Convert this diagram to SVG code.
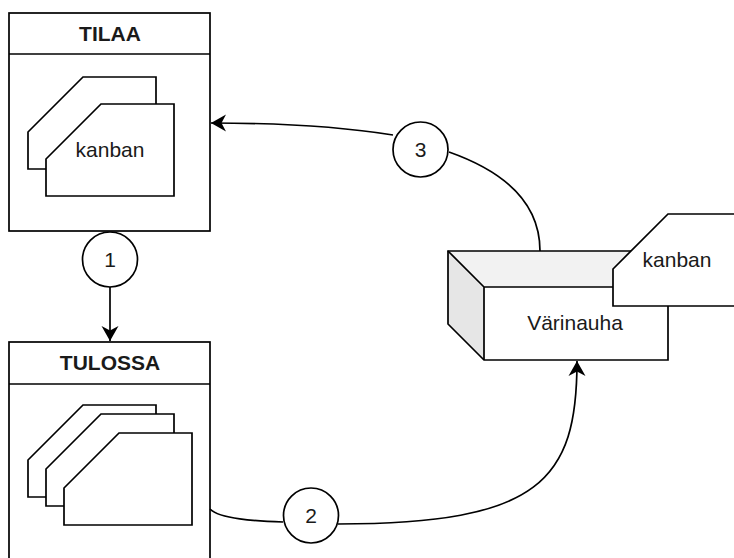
<svg xmlns="http://www.w3.org/2000/svg" width="734" height="558" viewBox="0 0 734 558">
<style>
.s{stroke:#000;stroke-width:1.7;fill:#fff}
.n{fill:none;stroke:#000;stroke-width:1.7}
.t{font-family:"Liberation Sans",Arial,sans-serif;font-size:21px;fill:#1a1a1a;text-anchor:middle}
.b{font-weight:bold}
</style>
<defs>
<marker id="arr" markerUnits="userSpaceOnUse" markerWidth="16" markerHeight="18" viewBox="0 0 16 18" refX="15" refY="9" orient="auto">
<path d="M15,9 L0,0.5 L4.5,9 L0,17.5 Z" fill="#000"/>
</marker>
</defs>
<rect width="734" height="558" fill="#fff"/>
<g id="tilaa">
<rect class="s" x="9" y="13" width="201" height="218"/>
<line class="n" x1="9" y1="54" x2="210" y2="54"/>
<text class="t b" x="110" y="41">TILAA</text>
<path class="s" d="M83,77 H156 V169 H28 V132 Z"/>
<path class="s" d="M101,104 H174 V196 H46 V159 Z"/>
<text class="t" x="110" y="157">kanban</text>
</g>
<g id="tulossa">
<rect class="s" x="9" y="342" width="201" height="260"/>
<line class="n" x1="9" y1="384" x2="210" y2="384"/>
<text class="t b" x="110" y="370">TULOSSA</text>
<path class="s" d="M83,405 H156 V497 H28 V460 Z"/>
<path class="s" d="M101,414 H174 V506 H46 V469 Z"/>
<path class="s" d="M119,433 H192 V525 H64 V488 Z"/>
</g>
<g id="varinauha">
<path d="M448,251 H632 L668,287 H484 Z" fill="#f2f2f2"/>
<path d="M448,251 L484,287 V360 L448,324 Z" fill="#e6e6e6"/>
<path class="n" d="M448,251 H632 L668,287 V360 H484 L448,324 Z"/>
<path class="n" d="M448,251 L484,287 H668 M484,287 V360"/>
<text class="t" x="575" y="330">Värinauha</text>
</g>
<g id="kanban-right">
<path class="s" d="M668,214 H741 V306 H613 V269 Z"/>
<text class="t" x="677" y="267">kanban</text>
</g>
<g id="connectors">
<path class="n" d="M110,287 V341" marker-end="url(#arr)"/>
<path class="n" d="M210,509 C220,519 255,521 283,522"/>
<path class="n" d="M338,524 C540,524 577,480 577,361" marker-end="url(#arr)"/>
<path class="n" d="M540,251 C540,200 500,170 449,152"/>
<path class="n" d="M393,135 C330,125 260,123 211,123" marker-end="url(#arr)"/>
</g>
<g id="c1">
<circle class="s" cx="110" cy="259.5" r="27.5"/>
<text class="t" x="110" y="266.5">1</text>
</g>
<g id="c2">
<circle class="s" cx="311" cy="515.5" r="27.5"/>
<text class="t" x="311" y="522.5">2</text>
</g>
<g id="c3">
<circle class="s" cx="420.5" cy="149.5" r="27.5"/>
<text class="t" x="420.5" y="156.5">3</text>
</g>
</svg>
